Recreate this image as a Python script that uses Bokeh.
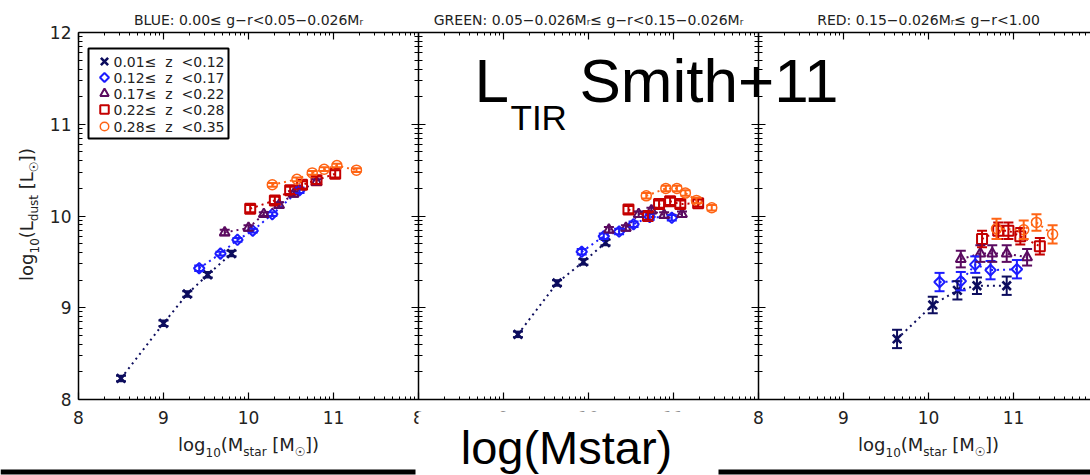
import math
from bokeh.plotting import figure
from bokeh.models import (Range1d, LinearAxis, FixedTicker, BoxAnnotation,
                          ColumnDataSource, Whisker, TeeHead)
from bokeh.embed import file_html
from bokeh.resources import INLINE
from bokeh.core.properties import value

# ---------------- data ----------------
panel_titles = ["BLUE: 0.00\u2264 g\u2212r<0.05\u22120.026M\u1d63",
                "GREEN: 0.05\u22120.026M\u1d63\u2264 g\u2212r<0.15\u22120.026M\u1d63",
                "RED: 0.15\u22120.026M\u1d63\u2264 g\u2212r<1.00"]
z_bins = ["0.01\u2264\u00a0\u00a0z\u00a0\u00a0<0.12", "0.12\u2264\u00a0\u00a0z\u00a0\u00a0<0.17",
          "0.17\u2264\u00a0\u00a0z\u00a0\u00a0<0.22", "0.22\u2264\u00a0\u00a0z\u00a0\u00a0<0.28",
          "0.28\u2264\u00a0\u00a0z\u00a0\u00a0<0.35"]
x_tick_values = [8, 9, 10, 11]
y_tick_values = [8, 9, 10, 11, 12]

# BLUE panel: log10 Mstar, log10 Ldust, error, one list per redshift bin
blue_mass = [[8.50, 9.00, 9.28, 9.52, 9.80],
             [9.42, 9.67, 9.87, 10.05, 10.28, 10.60],
             [9.72, 10.00, 10.18, 10.36, 10.53, 10.80],
             [10.02, 10.31, 10.49, 10.63, 10.80, 11.02],
             [10.28, 10.57, 10.75, 10.89, 11.04, 11.27]]
blue_ldust = [[8.23, 8.83, 9.15, 9.36, 9.59],
              [9.43, 9.59, 9.74, 9.84, 10.02, 10.28],
              [9.82, 9.87, 10.02, 10.12, 10.24, 10.37],
              [10.08, 10.17, 10.28, 10.34, 10.39, 10.46],
              [10.34, 10.40, 10.47, 10.51, 10.55, 10.50]]
blue_err = [[0.03, 0.03, 0.03, 0.03, 0.03],
            [0.03, 0.02, 0.02, 0.02, 0.02, 0.03],
            [0.03, 0.03, 0.02, 0.03, 0.03, 0.03],
            [0.04, 0.04, 0.04, 0.04, 0.04, 0.04],
            [0.02, 0.02, 0.02, 0.02, 0.02, 0.02]]

# GREEN panel
green_mass = [[9.17, 9.63, 9.94, 10.20],
              [9.92, 10.18, 10.36, 10.53, 10.72, 10.98],
              [10.24, 10.44, 10.59, 10.74, 10.89, 11.10],
              [10.47, 10.70, 10.83, 10.96, 11.08, 11.29],
              [10.68, 10.91, 11.04, 11.14, 11.27, 11.45]]
green_ldust = [[8.71, 9.27, 9.50, 9.71],
               [9.61, 9.78, 9.83, 9.91, 9.99, 9.98],
               [9.85, 9.87, 10.02, 10.06, 10.01, 10.02],
               [10.07, 10.00, 10.13, 10.16, 10.13, 10.14],
               [10.22, 10.30, 10.30, 10.25, 10.17, 10.09]]
green_err = [[0.03, 0.03, 0.03, 0.03],
             [0.03, 0.03, 0.03, 0.03, 0.03, 0.03],
             [0.03, 0.03, 0.03, 0.03, 0.03, 0.03],
             [0.04, 0.04, 0.04, 0.04, 0.04, 0.04],
             [0.03, 0.03, 0.03, 0.03, 0.03, 0.03]]

# RED panel
red_mass = [[9.63, 10.05, 10.34, 10.57, 10.92],
            [10.13, 10.38, 10.55, 10.73, 11.04],
            [10.38, 10.61, 10.75, 10.92, 11.16],
            [10.63, 10.82, 10.94, 11.08, 11.31],
            [10.80, 11.12, 11.27, 11.46]]
red_ldust = [[8.66, 9.03, 9.19, 9.24, 9.24],
             [9.28, 9.29, 9.47, 9.41, 9.42],
             [9.53, 9.59, 9.59, 9.59, 9.55],
             [9.75, 9.84, 9.84, 9.78, 9.67],
             [9.86, 9.85, 9.93, 9.80]]
red_err = [[0.10, 0.09, 0.10, 0.09, 0.10],
           [0.10, 0.10, 0.09, 0.10, 0.10],
           [0.09, 0.09, 0.09, 0.09, 0.09],
           [0.09, 0.09, 0.09, 0.09, 0.09],
           [0.11, 0.10, 0.09, 0.10]]

# ---------------- layout helpers (pixel -> data) ----------------
W_PX, H_PX = 1090, 475
FL, FR, FT, FB = 78, 1090, 32, 399      # panel area in pixels
XU = 85.0                               # pixels per dex in mass
YU = (FB - FT) / 4.0                    # pixels per dex in L
PANEL_SPAN = 4.0
MID = 0.37                              # baseline -> middle offset (fraction of font size)


def dx(px):
    return 8 + (px - FL) / XU


def dy(py):
    return 8 + (FB - py) / YU


NAVY, BLUE, PURPLE, RED, ORANGE = "#0d0d5e", "#1c1cff", "#5b0b60", "#c40000", "#ff6414"
styles = [dict(marker="x", color=NAVY, size=12, lw=2.6, angle=0.0),
          dict(marker="square", color=BLUE, size=7.5, lw=2, angle=math.pi / 4),
          dict(marker="triangle", color=PURPLE, size=10, lw=2, angle=0.0),
          dict(marker="square", color=RED, size=10, lw=2, angle=0.0),
          dict(marker="circle", color=ORANGE, size=10, lw=1.5, angle=0.0)]

FONT = "DejaVu Sans"
BIG = "Liberation Sans"
TXT = "#222222"

p = figure(width=W_PX, height=H_PX, output_backend="svg", toolbar_location=None,
           x_range=Range1d(dx(0), dx(W_PX)), y_range=Range1d(dy(H_PX), dy(0)),
           x_axis_location=None, y_axis_location=None,
           min_border_left=0, min_border_right=0, min_border_top=0, min_border_bottom=0)
p.grid.visible = False
p.outline_line_color = None
p.background_fill_color = "white"
p.border_fill_color = "white"

# ---------------- axes (fixed-location) ----------------
x_end = dx(FR)
n_units = int(math.floor(x_end - 8)) + 1
x_major = [8 + i for i in range(n_units)]
x_minor = [n + math.log10(k) for n in x_major for k in range(2, 10) if n + math.log10(k) < x_end]
y_minor = [n + math.log10(k) for n in y_tick_values[:-1] for k in range(2, 10)]

bottom_labels = {}
for t in x_major:
    local = 8 + (t - 8) % PANEL_SPAN
    bottom_labels[t] = str(int(local)) if local in x_tick_values else ""


def style_axis(ax, tin, tout, min_in, min_out, size="17px"):
    ax.axis_line_width = 1.5
    ax.axis_line_color = "black"
    ax.major_tick_line_color = "black"
    ax.minor_tick_line_color = "black"
    ax.major_tick_line_width = 1.2
    ax.minor_tick_line_width = 1
    ax.major_tick_in = tin
    ax.major_tick_out = tout
    ax.minor_tick_in = min_in
    ax.minor_tick_out = min_out
    ax.major_label_text_font = FONT
    ax.major_label_text_font_size = size
    ax.major_label_text_color = TXT


bottom = LinearAxis(fixed_location=8, bounds=(8, x_end),
                    ticker=FixedTicker(ticks=x_major, minor_ticks=x_minor),
                    major_label_overrides=bottom_labels)
style_axis(bottom, 7, 0, 3, 0)
bottom.major_label_standoff = 11
p.add_layout(bottom, "below")

top = LinearAxis(fixed_location=12, bounds=(8, x_end),
                 ticker=FixedTicker(ticks=x_major, minor_ticks=x_minor),
                 major_label_overrides={t: "" for t in x_major})
style_axis(top, 7, 0, 3, 0)
p.add_layout(top, "above")

left = LinearAxis(fixed_location=8, bounds=(8, 12),
                  ticker=FixedTicker(ticks=y_tick_values, minor_ticks=y_minor),
                  major_label_overrides={t: str(t) for t in y_tick_values})
style_axis(left, 7, 0, 4, 0)
left.major_label_standoff = 7
p.add_layout(left, "left")

for b in [8 + PANEL_SPAN, 8 + 2 * PANEL_SPAN]:
    inner = LinearAxis(fixed_location=b, bounds=(8, 12),
                       ticker=FixedTicker(ticks=y_tick_values, minor_ticks=y_minor),
                       major_label_overrides={t: "" for t in y_tick_values})
    style_axis(inner, 7, 7, 4, 4)
    p.add_layout(inner, "left")

# ---------------- data ----------------
for pi_, (M, L, E) in enumerate([(blue_mass, blue_ldust, blue_err),
                                 (green_mass, green_ldust, green_err),
                                 (red_mass, red_ldust, red_err)]):
    off = pi_ * PANEL_SPAN
    for k in range(5):
        st = styles[k]
        xs = [m + off for m in M[k]]
        ys = L[k]
        src = ColumnDataSource(dict(x=xs, y=ys,
                                    lo=[a - e for a, e in zip(ys, E[k])],
                                    hi=[a + e for a, e in zip(ys, E[k])]))
        p.line("x", "y", source=src, line_color=st["color"], line_width=2, line_dash="2 4")
        p.add_layout(Whisker(source=src, base="x", lower="lo", upper="hi", dimension="height",
                             line_color=st["color"], line_width=2, level="glyph",
                             lower_head=TeeHead(size=10, line_color=st["color"], line_width=2),
                             upper_head=TeeHead(size=10, line_color=st["color"], line_width=2)))
        p.scatter("x", "y", source=src, marker=st["marker"], size=st["size"], angle=st["angle"],
                  fill_color=None, line_color=st["color"], line_width=st["lw"])

# ---------------- legend box (panel 1) ----------------
p.quad(left=[dx(88)], right=[dx(228)], top=[dy(48)], bottom=[dy(138)],
       fill_color="white", line_color="black", line_width=2)
rows = [61, 77, 93, 109, 126]
for k, st in enumerate(styles):
    p.scatter(x=[dx(104)], y=[dy(rows[k])], marker=st["marker"], size=st["size"] * 0.85,
              angle=st["angle"], fill_color=None, line_color=st["color"], line_width=st["lw"])
p.text(x=[dx(113)] * 5, y=[dy(r) for r in rows], text=z_bins, text_font=value(FONT),
       text_font_size="14px", text_baseline="middle", text_color=TXT)

# ---------------- panel titles ----------------
TSIZE = 14
p.text(x=[10 + i * PANEL_SPAN for i in range(3)], y=[dy(25 - MID * TSIZE)] * 3, text=panel_titles,
       text_align="center", text_baseline="middle", text_font=value(FONT),
       text_font_size="%dpx" % TSIZE, text_color=TXT)

# ---------------- composed axis labels with subscripts ----------------
W = {' ': 318, '(': 390, ')': 390, '[': 390, ']': 390, 'l': 278, 'o': 612, 'g': 635,
     'd': 635, 'u': 634, 's': 521, 't': 392, 'a': 613, 'r': 411, 'M': 863, 'L': 557,
     '\u2609': 838}
for c in "0123456789":
    W[c] = 636
MAIN, SUB, DROP = 18, 12, 5


def width(s, size):
    return sum(W.get(c, 600) for c in s) * size / 1000.0


def layout(subtext, main_sym):
    parts = [("log", 0, 0), ("10", 1, 0), ("(" + main_sym, 0, 0), (subtext, 1, 0),
             ("[" + main_sym, 0, 1), ("\u2609", 1, 0), ("])", 0, 0)]
    out, cur = [], 0.0
    for txt, is_sub, lead in parts:
        size = SUB if is_sub else MAIN
        if lead:
            cur += width(" ", MAIN)
        out.append((txt, is_sub, cur))
        cur += width(txt, size)
    return out, cur


# y label (rotated, reads bottom to top); main baseline at x=33
ypieces, ytot = layout("dust", "L")
ystart = 214 + ytot / 2
for is_sub in (0, 1):
    size = SUB if is_sub else MAIN
    sel = [pc for pc in ypieces if pc[1] == is_sub]
    p.text(x=[dx(33 + DROP * is_sub - MID * size)] * len(sel),
           y=[dy(ystart - pc[2]) for pc in sel],
           text=[pc[0] for pc in sel], angle=math.pi / 2, text_align="left",
           text_baseline="middle", text_font=value(FONT),
           text_font_size="%dpx" % size, text_color=TXT)

# x labels under the BLUE and RED panels; main baseline at y=451
xpieces, xtot = layout("star", "M")
for center in [FL + 2 * XU, FL + 2 * XU + 2 * PANEL_SPAN * XU]:
    start = center - xtot / 2
    for is_sub in (0, 1):
        size = SUB if is_sub else MAIN
        sel = [pc for pc in xpieces if pc[1] == is_sub]
        p.text(x=[dx(start + pc[2]) for pc in sel],
               y=[dy(451 + DROP * is_sub - MID * size)] * len(sel),
               text=[pc[0] for pc in sel], text_align="left", text_baseline="middle",
               text_font=value(FONT), text_font_size="%dpx" % size, text_color=TXT)

# ---------------- overlay annotations ----------------
big_texts = ["L", "TIR", "Smith+11"]
big_px = [474, 510, 579]
big_base = [103, 130, 103]
big_size = [62, 35, 62]
for t, bx, bb, bs in zip(big_texts, big_px, big_base, big_size):
    r = p.text(x=[dx(bx)], y=[dy(bb - MID * bs)], text=[t], text_font=value(BIG),
               text_font_size="%dpx" % bs, text_baseline="middle", text_align="left",
               text_color="black")
    r.level = "overlay"

# white patch hiding the middle panel's tick labels, black bars at the bottom edge
p.add_layout(BoxAnnotation(left=dx(418), right=dx(718), top=dy(411), bottom=dy(H_PX),
                           fill_color="white", fill_alpha=1, line_color=None))
p.add_layout(BoxAnnotation(left=dx(0), right=dx(415), top=dy(469), bottom=dy(474),
                           fill_color="black", fill_alpha=1, line_color=None))
p.add_layout(BoxAnnotation(left=dx(718), right=dx(W_PX), top=dy(469), bottom=dy(474),
                           fill_color="black", fill_alpha=1, line_color=None))
LM = 47
r = p.text(x=[dx(566)], y=[dy(464 - MID * LM)], text=["log(Mstar)"], text_font=value(BIG),
           text_font_size="%dpx" % LM, text_baseline="middle", text_align="center",
           text_color="black")
r.level = "overlay"

open("out.html", "w").write(file_html(p, INLINE))
